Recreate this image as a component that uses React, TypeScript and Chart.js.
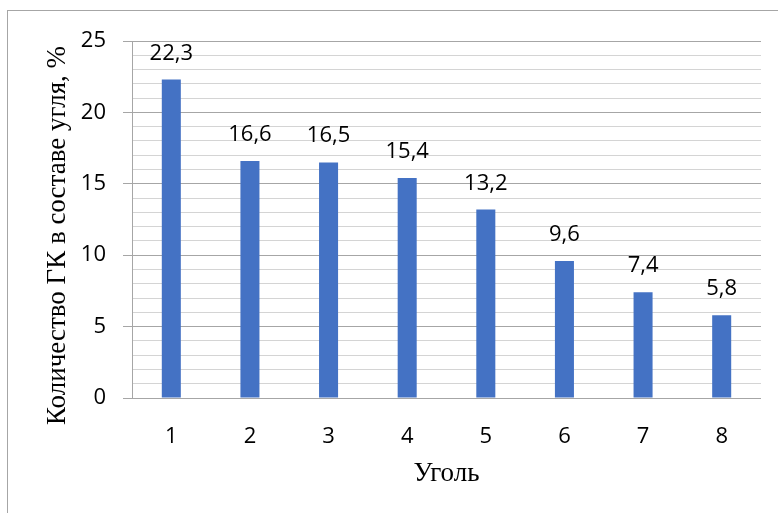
import React, { useEffect, useRef } from "react";
import { Chart, registerables } from "chart.js";

Chart.register(...registerables);

// Доля ГК в составе угля по образцам
const categories = ["1", "2", "3", "4", "5", "6", "7", "8"];
const ghkShare = [22.3, 16.6, 16.5, 15.4, 13.2, 9.6, 7.4, 5.8];
const yTickLabels = [0, 5, 10, 15, 20, 25];
const yTitle = "Количество ГК в составе угля, %";
const xTitle = "Уголь";

const TICK_FONT = { family: "'Open Sans', sans-serif", size: 22 };
const TITLE_FONT = "27px 'Liberation Serif', serif";

const formatValue = (v: number) => v.toFixed(1).replace(".", ",");

// Value labels above each bar
const valueLabels = {
  id: "valueLabels",
  afterDatasetsDraw(chart: any) {
    const { ctx } = chart;
    const meta = chart.getDatasetMeta(0);
    const data = chart.data.datasets[0].data as number[];
    ctx.save();
    ctx.font = `${TICK_FONT.size}px ${TICK_FONT.family}`;
    ctx.fillStyle = "#000";
    ctx.textAlign = "center";
    ctx.textBaseline = "alphabetic";
    meta.data.forEach((bar: any, i: number) => {
      ctx.fillText(formatValue(data[i]), bar.x, bar.y - 20);
    });
    ctx.restore();
  },
};

// Rotated y-axis caption
const yCaption = {
  id: "yCaption",
  afterDraw(chart: any) {
    const { ctx, chartArea } = chart;
    const cy = (chartArea.top + chartArea.bottom) / 2 + 16;
    ctx.save();
    ctx.translate(58, cy);
    ctx.rotate(-Math.PI / 2);
    ctx.font = TITLE_FONT;
    ctx.fillStyle = "#000";
    ctx.textAlign = "center";
    ctx.textBaseline = "middle";
    ctx.fillText(yTitle, 0, 0);
    ctx.restore();
  },
};

export default function App() {
  const canvasRef = useRef<HTMLCanvasElement | null>(null);

  useEffect(() => {
    if (!canvasRef.current) return;
    const chart = new Chart(canvasRef.current, {
      type: "bar",
      data: {
        labels: categories,
        datasets: [
          {
            data: ghkShare,
            backgroundColor: "#4472C4",
            borderWidth: 0,
            barPercentage: 0.242,
            categoryPercentage: 1,
          },
        ],
      },
      options: {
        responsive: false,
        animation: false,
        devicePixelRatio: 1,
        layout: { padding: { top: 41, right: 17, bottom: 0, left: 0 } },
        plugins: {
          legend: { display: false },
          tooltip: { enabled: false },
        },
        scales: {
          x: {
            grid: { display: false, drawTicks: false },
            border: { display: false },
            ticks: { padding: 26, color: "#000", font: TICK_FONT },
            title: {
              display: true,
              text: xTitle,
              color: "#000",
              font: { family: "'Liberation Serif', serif", size: 27 },
              padding: { top: 0, bottom: 23 },
            },
            afterFit: (s: any) => {
              s.height = 115;
            },
          },
          y: {
            min: 0,
            max: 25,
            ticks: {
              stepSize: 1,
              autoSkip: false,
              padding: 17,
              color: "#000",
              font: TICK_FONT,
              callback: (v: any) => (yTickLabels.includes(Number(v)) ? String(v) : ""),
            },
            grid: {
              color: (c: any) => (yTickLabels.includes(c.tick?.value) ? "#a6a6a6" : "#d4d4d4"),
              tickColor: (c: any) => (yTickLabels.includes(c.tick?.value) ? "#a6a6a6" : "rgba(0,0,0,0)"),
              tickLength: 9,
              lineWidth: 1,
            },
            border: { display: true, color: "#a6a6a6", width: 1 },
            afterFit: (s: any) => {
              s.width = 132;
            },
          },
        },
      },
      plugins: [valueLabels, yCaption],
    });
    return () => chart.destroy();
  }, []);

  return (
    <div
      style={{
        position: "fixed",
        left: 0,
        top: 0,
        width: 778,
        height: 513,
        overflow: "hidden",
        background: "#fff",
      }}
    >
      <div
        style={{
          position: "absolute",
          left: 7,
          top: 10,
          width: 1000,
          height: 1000,
          border: "1.5px solid #a6a6a6",
        }}
      />
      <canvas
        ref={canvasRef}
        width={778}
        height={513}
        style={{ position: "absolute", left: 0, top: 0, display: "block" }}
      />
    </div>
  );
}
